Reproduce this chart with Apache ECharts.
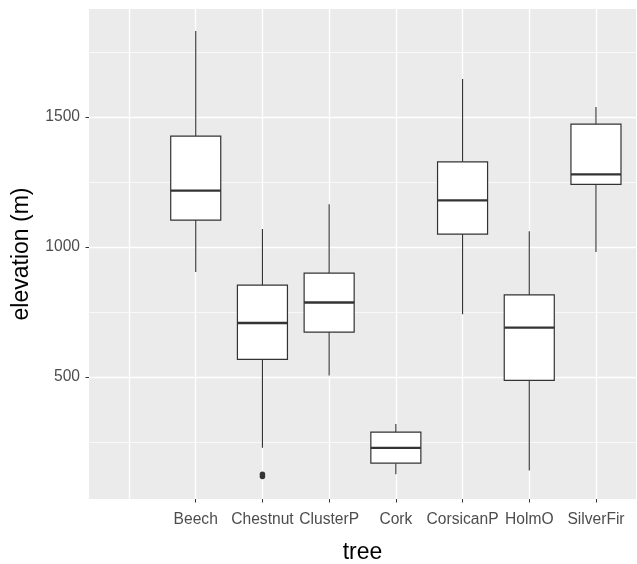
<!DOCTYPE html>
<html>
<head>
<meta charset="utf-8">
<script src="https://cdn.jsdelivr.net/npm/echarts@6/dist/echarts.min.js"></script>
<style>
  html, body { margin: 0; padding: 0; background: #fff; }
  #chart { width: 637px; height: 564px; }
</style>
</head>
<body>
<div id="chart"></div>
<script>
// first level is an empty one: it has a grid line but no label
const trees = ['', 'Beech', 'Chestnut', 'ClusterP', 'Cork', 'CorsicanP', 'HolmO', 'SilverFir'];
const whiskerLow = [904, 228, 506, 126, 742, 141, 981];
const q1 = [1104, 568, 673, 169, 1050, 487, 1241];
const median = [1217, 708, 787, 228, 1180, 690, 1280];
const q3 = [1427, 854, 900, 288, 1328, 816, 1473];
const whiskerHigh = [1831, 1070, 1165, 320, 1647, 1061, 1539];
const outliers = [['Chestnut', 118], ['Chestnut', 126]];
const majorY = [500, 1000, 1500];
const minorY = [250, 750, 1250, 1750];

const FONT = '"Liberation Sans", Arial, Helvetica, sans-serif';
const allIdx = trees.map((t, i) => i);
const labelIdx = allIdx.filter(i => trees[i] !== '');

const boxData = trees.slice(1).map((t, i) => [trees.indexOf(t), whiskerLow[i], q1[i], median[i], q3[i], whiskerHigh[i]]);
const outlierData = outliers.map(o => [trees.indexOf(o[0]), o[1]]);

const chart = echarts.init(document.getElementById('chart'), null, { renderer: 'canvas' });

const renderBox = (params, api) => {
  const x = api.value(0);
  const half = 0.375;
  const lo = api.coord([x, api.value(1)]);
  const b1 = api.coord([x - half, api.value(2)]);
  const md = api.coord([x, api.value(3)]);
  const b3 = api.coord([x + half, api.value(4)]);
  const hi = api.coord([x, api.value(5)]);
  const stroke = '#333333';
  return {
    type: 'group',
    children: [
      { type: 'line', shape: { x1: lo[0], y1: lo[1], x2: lo[0], y2: b1[1] }, style: { stroke, lineWidth: 1.1 } },
      { type: 'line', shape: { x1: hi[0], y1: hi[1], x2: hi[0], y2: b3[1] }, style: { stroke, lineWidth: 1.1 } },
      { type: 'rect', shape: { x: b1[0], y: b3[1], width: b3[0] - b1[0], height: b1[1] - b3[1] },
        style: { fill: '#ffffff', stroke, lineWidth: 1.2 } },
      { type: 'line', shape: { x1: b1[0], y1: md[1], x2: b3[0], y2: md[1] }, style: { stroke, lineWidth: 2.3 } }
    ]
  };
};

chart.setOption({
  animation: false,
  textStyle: { fontFamily: FONT },
  grid: {
    left: 89, right: 1, top: 9, bottom: 65,
    outerBoundsMode: 'none', containLabel: false,
    show: true, backgroundColor: '#EBEBEB', borderWidth: 0
  },
  xAxis: [
    {
      type: 'value', min: -0.6, max: 7.6,
      axisLine: { show: false, onZero: false },
      axisTick: { show: false, customValues: allIdx },
      axisLabel: { show: false, customValues: allIdx },
      splitLine: { show: true, lineStyle: { color: '#ffffff', width: 1.3 } }
    },
    {
      type: 'value', min: -0.6, max: 7.6, position: 'bottom',
      axisLine: { show: false, onZero: false },
      axisTick: { show: true, length: 3.5, customValues: labelIdx, lineStyle: { color: '#333333', width: 1 } },
      axisLabel: {
        customValues: labelIdx, formatter: v => trees[Math.round(v)],
        color: '#4d4d4d', fontSize: 15.6, margin: 13, fontFamily: FONT
      },
      splitLine: { show: false },
      name: 'tree', nameLocation: 'middle', nameGap: 42,
      nameTextStyle: { color: '#000', fontSize: 23, fontFamily: FONT }
    }
  ],
  yAxis: [
    {
      type: 'value', min: 31, max: 1916,
      axisLine: { show: false, onZero: false },
      axisTick: { show: true, length: 3.5, customValues: majorY, lineStyle: { color: '#333333', width: 1 } },
      axisLabel: { customValues: majorY, formatter: v => String(v), color: '#4d4d4d', fontSize: 15.6, margin: 9, fontFamily: FONT },
      splitLine: { show: true, lineStyle: { color: '#ffffff', width: 1.3 } },
      name: 'elevation (m)', nameLocation: 'middle', nameGap: 56, nameRotate: 90,
      nameTextStyle: { color: '#000', fontSize: 23, fontFamily: FONT }
    },
    {
      type: 'value', min: 31, max: 1916,
      axisLine: { show: false, onZero: false },
      axisTick: { show: false, customValues: minorY },
      axisLabel: { show: false, customValues: minorY },
      splitLine: { show: true, lineStyle: { color: '#ffffff', width: 0.7 } }
    }
  ],
  series: [
    {
      type: 'custom', xAxisIndex: 0, yAxisIndex: 0,
      renderItem: renderBox,
      encode: { x: 0, y: [1, 2, 3, 4, 5] },
      data: boxData, z: 3
    },
    {
      type: 'scatter', xAxisIndex: 0, yAxisIndex: 0,
      symbol: 'circle', symbolSize: 5.5,
      itemStyle: { color: '#333333', opacity: 1 },
      data: outlierData, z: 4
    }
  ]
});
</script>
</body>
</html>
